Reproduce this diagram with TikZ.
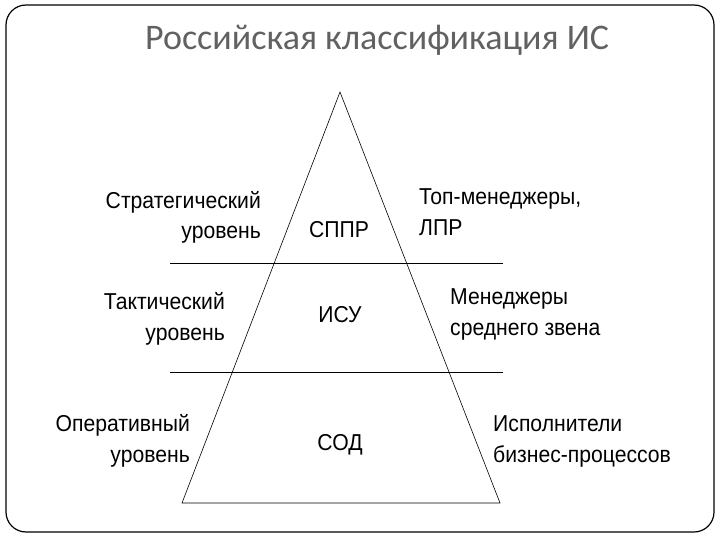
\documentclass[tikz,border=0pt]{standalone}
\usepackage{fontspec}
\setmainfont{Liberation Sans}[FakeStretch=0.92]
\newfontfamily\titlefont{Carlito}
\usetikzlibrary{positioning}
\tikzstyle{frame} = [draw, line width=1.2pt, rounded corners=20pt]
\tikzstyle{lvltext} = [inner sep=0pt, font=\fontsize{23}{31}\selectfont]
\tikzstyle{leftlabel} = [lvltext, align=right, anchor=base east]
\tikzstyle{rightlabel} = [lvltext, align=left, anchor=base west]
\tikzstyle{system} = [lvltext, anchor=base]
\tikzstyle{line} = [draw, line width=0.6pt]

\begin{document}
\begin{tikzpicture}[x=1pt, y=-1pt]
  \useasboundingbox (0,0) rectangle (720,540);
  \draw[frame] (6,5) rectangle (714,532);
  \node[inner sep=0pt, anchor=base, text=black!62,
    font=\titlefont\fontsize{36}{40}\selectfont] (title) at (377,50)
    {Российская классификация ИС};

  % Place coordinates
  \coordinate (apex) at (340,92);
  \coordinate (baseL) at (182,503);
  \coordinate (baseR) at (500,503);
  \coordinate (cut1L) at (170,263);
  \coordinate (cut1R) at (503,263);
  \coordinate (cut2L) at (170,372);
  \coordinate (cut2R) at (503,372);

  % Levels
  \node[leftlabel] (strat) at (261,239) {Стратегический\\уровень};
  \node[leftlabel] (tact) at (225,340) {Тактический\\уровень};
  \node[leftlabel] (oper) at (190,462) {Оперативный\\уровень};
  % Systems
  \node[system] (sppr) at (339,237) {СППР};
  \node[system] (isu) at (340,322) {ИСУ};
  \node[system] (sod) at (340,450) {СОД};
  % Users
  \node[rightlabel] (top) at (419,236) {Топ-менеджеры,\\ЛПР};
  \node[rightlabel] (mid) at (450,335) {Менеджеры\\среднего звена};
  \node[rightlabel] (exec) at (493,462) {Исполнители\\бизнес-процессов};

  % Draw edges
  \path [line] (baseL) -- (apex) -- (baseR) -- cycle;
  \path [line] (cut1L) -- (cut1R);
  \path [line] (cut2L) -- (cut2R);
\end{tikzpicture}
\end{document}
